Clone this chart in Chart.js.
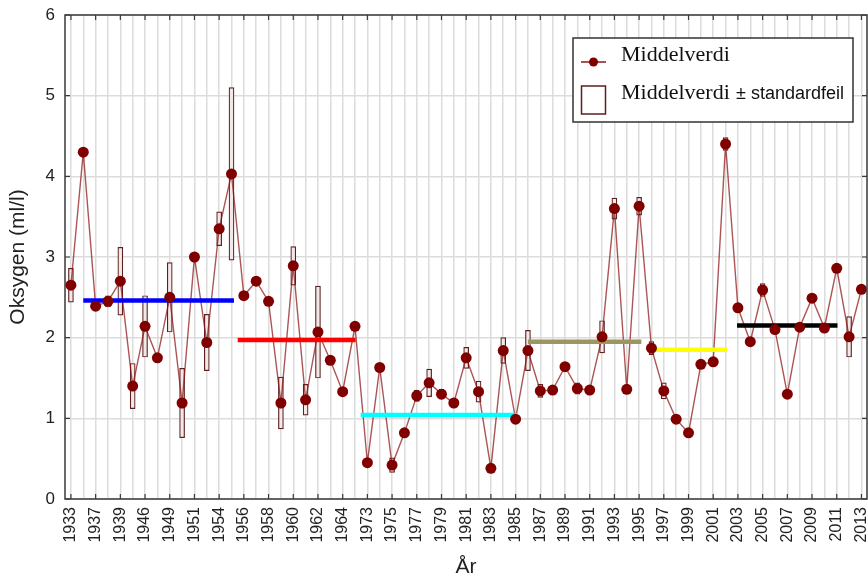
<!DOCTYPE html>
<html>
<head>
<meta charset="utf-8">
<script src="https://cdn.jsdelivr.net/npm/chart.js@4.4.1/dist/chart.umd.min.js"></script>
<style>
  html, body { margin: 0; padding: 0; background: #fff; overflow: hidden; }
  #wrap { position: relative; width: 868px; height: 583px; }
</style>
</head>
<body>
<div id="wrap"><canvas id="oxyChart"></canvas></div>
<script>
// år (bare annethvert år står som etikett på aksen)
const years = [1933, 1936, 1937, 1938, 1939, 1945, 1946, 1948, 1949, 1950,
  1951, 1953, 1954, 1955, 1956, 1957, 1958, 1959, 1960, 1961,
  1962, 1963, 1964, 1970, 1973, 1974, 1975, 1976, 1977, 1978,
  1979, 1980, 1981, 1982, 1983, 1984, 1985, 1986, 1987, 1988,
  1989, 1990, 1991, 1992, 1993, 1994, 1995, 1996, 1997, 1998,
  1999, 2000, 2001, 2002, 2003, 2004, 2005, 2006, 2007, 2008,
  2009, 2010, 2011, 2012, 2013];

// middelverdi oksygen (ml/l)
const meanValues = [2.65, 4.30, 2.39, 2.45, 2.70, 1.40, 2.14, 1.75, 2.50, 1.19,
  3.00, 1.94, 3.35, 4.03, 2.52, 2.70, 2.45, 1.19, 2.89, 1.23,
  2.07, 1.72, 1.33, 2.14, 0.45, 1.63, 0.42, 0.82, 1.28, 1.44,
  1.30, 1.19, 1.75, 1.33, 0.38, 1.84, 0.99, 1.84, 1.34, 1.35,
  1.64, 1.37, 1.35, 2.01, 3.60, 1.36, 3.63, 1.87, 1.34, 0.99,
  0.82, 1.67, 1.70, 4.40, 2.37, 1.95, 2.59, 2.10, 1.30, 2.13,
  2.49, 2.12, 2.86, 2.01, 2.60];

// standardfeil (0 = ingen boks synlig)
const stdErr = [0.21, 0, 0, 0.07, 0.42, 0.28, 0.38, 0, 0.43, 0.43,
  0, 0.35, 0.21, 1.07, 0, 0, 0, 0.32, 0.24, 0.19,
  0.57, 0, 0, 0, 0.05, 0, 0.09, 0, 0.07, 0.17,
  0.06, 0, 0.13, 0.13, 0, 0.16, 0, 0.25, 0.08, 0,
  0.03, 0.07, 0, 0.20, 0.13, 0.03, 0.11, 0.08, 0.10, 0,
  0, 0.04, 0.04, 0.08, 0.05, 0, 0.08, 0, 0, 0.04,
  0.05, 0.03, 0, 0.25, 0];

// periodemiddel (x i kategori-indeks)
const periodStart = [1, 13.5, 23.46, 37, 47, 53.93];
const periodEnd   = [13.2, 23.05, 36.11, 46.18, 53.12, 62.06];
const periodMean  = [2.46, 1.97, 1.04, 1.95, 1.85, 2.15];
const periodColors = ['#0000ff', '#ff0000', '#00ffff', '#9c9660', '#ffff00', '#000000'];

const yTicks = [0, 1, 2, 3, 4, 5, 6];

const sansFont = "'Liberation Sans', Arial, sans-serif";
const serifFont = "'Liberation Serif', 'Times New Roman', serif";

const seriesPoints = meanValues.map((v, i) => ({ x: i, y: v }));
const seBoxes = meanValues
  .map((v, i) => ({ x: i, y: [v - stdErr[i], v + stdErr[i]] }))
  .filter((d, i) => stdErr[i] > 0);

const periodSets = periodMean.map((m, k) => ({
  type: 'line',
  data: [{ x: periodStart[k], y: m }, { x: periodEnd[k], y: m }],
  borderColor: periodColors[k],
  borderWidth: 4.5,
  pointRadius: 0,
  order: 2
}));

// ramme rundt plottet og korte innover-ticks
const framePlugin = {
  id: 'frame',
  afterDraw(chart) {
    const { ctx, chartArea: a, scales: { x, y } } = chart;
    ctx.save();
    ctx.strokeStyle = '#3a3a3a';
    ctx.lineWidth = 1.5;
    ctx.strokeRect(a.left, a.top, a.right - a.left, a.bottom - a.top);
    ctx.lineWidth = 1.2;
    ctx.beginPath();
    years.forEach((yr, i) => {
      if (i % 2) return;
      const px = x.getPixelForValue(i);
      ctx.moveTo(px, a.bottom); ctx.lineTo(px, a.bottom - 5);
      ctx.moveTo(px, a.top); ctx.lineTo(px, a.top + 5);
    });
    yTicks.forEach(v => {
      const py = y.getPixelForValue(v);
      ctx.moveTo(a.left, py); ctx.lineTo(a.left + 5, py);
      ctx.moveTo(a.right, py); ctx.lineTo(a.right - 5, py);
    });
    ctx.stroke();
    ctx.restore();
  }
};

// forklaring (blandet skrift, derfor tegnet selv)
const legendPlugin = {
  id: 'boxLegend',
  afterDraw(chart) {
    const ctx = chart.ctx;
    ctx.save();
    ctx.fillStyle = '#fff';
    ctx.fillRect(573, 38, 280, 84);
    ctx.strokeStyle = '#333';
    ctx.lineWidth = 1.5;
    ctx.strokeRect(573, 38, 280, 84);

    ctx.strokeStyle = '#8b1a1a';
    ctx.lineWidth = 1.5;
    ctx.beginPath(); ctx.moveTo(581, 62); ctx.lineTo(606, 62); ctx.stroke();
    ctx.fillStyle = '#800000';
    ctx.beginPath(); ctx.arc(593.5, 62, 4.5, 0, Math.PI * 2); ctx.fill();

    ctx.strokeStyle = '#5c1f1f';
    ctx.lineWidth = 1.5;
    ctx.strokeRect(581.5, 86, 24, 28);

    ctx.fillStyle = '#111';
    ctx.textBaseline = 'alphabetic';
    ctx.font = '22px ' + serifFont;
    ctx.fillText('Middelverdi', 621, 61);
    ctx.fillText('Middelverdi', 621, 99);
    ctx.font = '18px ' + sansFont;
    ctx.fillText('± standardfeil', 736, 99);
    ctx.restore();
  }
};

new Chart(document.getElementById('oxyChart'), {
  type: 'line',
  data: {
    datasets: [
      {
        type: 'bar',
        data: seBoxes,
        backgroundColor: '#f2e8e8',
        borderColor: '#5c1f1f',
        borderWidth: 1.2,
        borderSkipped: false,
        barThickness: 5,
        grouped: false,
        order: 4
      },
      {
        type: 'line',
        data: seriesPoints,
        borderColor: 'rgba(140, 20, 20, 0.72)',
        borderWidth: 1.4,
        pointRadius: 0,
        tension: 0,
        order: 3
      },
      ...periodSets,
      {
        type: 'line',
        data: seriesPoints,
        showLine: false,
        pointRadius: 5.5,
        pointBackgroundColor: '#800000',
        pointBorderWidth: 0,
        order: 1
      }
    ]
  },
  options: {
    responsive: true,
    maintainAspectRatio: false,
    animation: false,
    layout: { autoPadding: false, padding: { top: 15, right: 1, left: 0, bottom: 0 } },
    plugins: { legend: { display: false }, tooltip: { enabled: false } },
    scales: {
      x: {
        type: 'linear',
        min: -0.48,
        max: 64.45,
        offset: false,
        afterBuildTicks: axis => { axis.ticks = years.map((yr, i) => ({ value: i })); },
        afterFit: s => { s.height = 84; s.paddingLeft = 0; s.paddingRight = 0; s.paddingTop = 0; s.paddingBottom = 0; },
        grid: { color: '#dcdcdc', lineWidth: 1.5, drawTicks: false, offset: false },
        border: { display: false },
        ticks: {
          autoSkip: false,
          minRotation: 90,
          maxRotation: 90,
          padding: 8,
          color: '#222',
          font: { family: sansFont, size: 16 },
          callback: v => (v % 2 === 0 ? String(years[v]) : '')
        },
        title: {
          display: true,
          text: 'År',
          color: '#222',
          font: { family: sansFont, size: 21 },
          padding: { top: 0, bottom: 3 }
        }
      },
      y: {
        min: 0,
        max: 6,
        afterFit: s => { s.width = 65; s.paddingTop = 0; s.paddingBottom = 0; s.paddingLeft = 0; s.paddingRight = 0; },
        grid: { color: '#dcdcdc', lineWidth: 1.5, drawTicks: false },
        border: { display: false },
        ticks: {
          stepSize: 1,
          padding: 10,
          color: '#222',
          font: { family: sansFont, size: 17 }
        },
        title: {
          display: true,
          text: 'Oksygen (ml/l)',
          color: '#222',
          font: { family: sansFont, size: 21 },
          padding: { top: 6, bottom: 0 }
        }
      }
    }
  },
  plugins: [framePlugin, legendPlugin]
});
</script>
</body>
</html>
